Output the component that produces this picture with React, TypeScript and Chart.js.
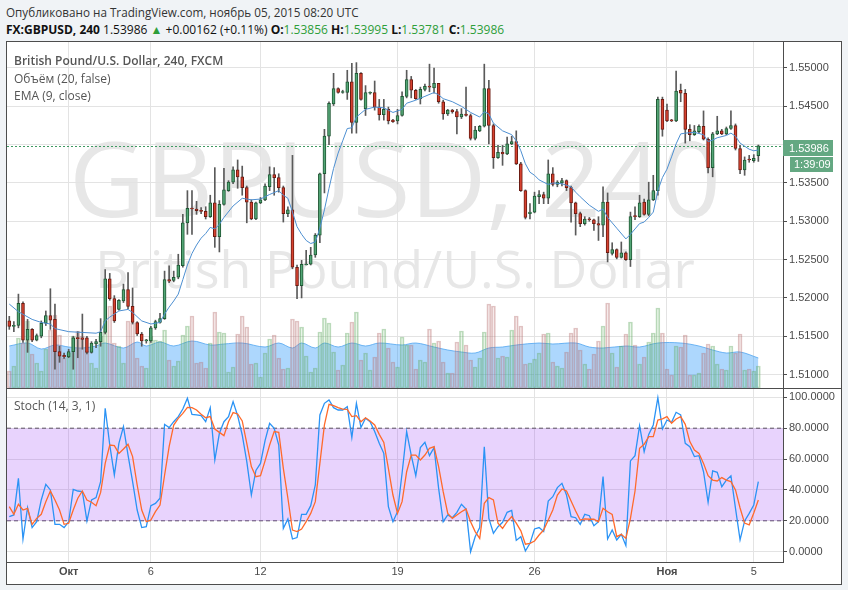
import React, { useEffect, useRef } from 'react';
import { Chart, registerables } from 'chart.js';

Chart.register(...registerables);

// ---------- DATA ----------
const opens = [
  1.5170, 1.5163, 1.5164, 1.5193, 1.5145, 1.5159, 1.5145, 1.5150, 1.5167, 1.5177,
  1.5172, 1.5130, 1.5125, 1.5123, 1.5130, 1.5148, 1.5148, 1.5148, 1.5129, 1.5140,
  1.5143, 1.5155, 1.5225, 1.5199, 1.5185, 1.5196, 1.5211, 1.5189, 1.5168, 1.5153,
  1.5144, 1.5144, 1.5161, 1.5168, 1.5173, 1.5224, 1.5223, 1.5227, 1.5242, 1.5298,
  1.5317, 1.5316, 1.5314, 1.5313, 1.5306, 1.5324, 1.5280, 1.5322, 1.5340, 1.5351,
  1.5367, 1.5358, 1.5344, 1.5325, 1.5303, 1.5324, 1.5328, 1.5345, 1.5361, 1.5357,
  1.5344, 1.5310, 1.5315, 1.5240, 1.5216, 1.5243, 1.5244, 1.5256, 1.5282, 1.5362,
  1.5411, 1.5453, 1.5473, 1.5468, 1.5468, 1.5482, 1.5429, 1.5493, 1.5447, 1.5467,
  1.5468, 1.5449, 1.5439, 1.5446, 1.5432, 1.5431, 1.5438, 1.5463, 1.5485, 1.5471,
  1.5460, 1.5472, 1.5476, 1.5474, 1.5480, 1.5456, 1.5440, 1.5445, 1.5443, 1.5436,
  1.5440, 1.5438, 1.5408, 1.5418, 1.5424, 1.5473, 1.5425, 1.5383, 1.5390, 1.5388,
  1.5401, 1.5404, 1.5375, 1.5340, 1.5310, 1.5312, 1.5332, 1.5335, 1.5330, 1.5362,
  1.5348, 1.5350, 1.5353, 1.5344, 1.5324, 1.5310, 1.5297, 1.5303, 1.5302, 1.5297,
  1.5295, 1.5325, 1.5258, 1.5263, 1.5253, 1.5259, 1.5250, 1.5307, 1.5306, 1.5325,
  1.5309, 1.5328, 1.5340, 1.5459, 1.5445, 1.5432, 1.5431, 1.5471, 1.5467, 1.5420,
  1.5413, 1.5417, 1.5424, 1.5407, 1.5370, 1.5414, 1.5418, 1.5414, 1.5421, 1.5425,
  1.5395, 1.5367, 1.5381, 1.5379, 1.53856,
];
const highs = [
  1.5176, 1.5169, 1.5205, 1.5195, 1.5172, 1.5160, 1.5153, 1.5170, 1.5183, 1.5212,
  1.5192, 1.5137, 1.5128, 1.5133, 1.5150, 1.5156, 1.5179, 1.5150, 1.5143, 1.5146,
  1.5173, 1.5237, 1.5232, 1.5203, 1.5198, 1.5218, 1.5233, 1.5213, 1.5169, 1.5155,
  1.5146, 1.5163, 1.5171, 1.5180, 1.5235, 1.5242, 1.5235, 1.5257, 1.5309, 1.5340,
  1.5340, 1.5326, 1.5318, 1.5319, 1.5334, 1.5370, 1.5327, 1.5369, 1.5353, 1.5371,
  1.5380, 1.5372, 1.5346, 1.5328, 1.5325, 1.5331, 1.5349, 1.5371, 1.5370, 1.5362,
  1.5346, 1.5319, 1.5386, 1.5243, 1.5249, 1.5262, 1.5266, 1.5284, 1.5363, 1.5420,
  1.5456, 1.5493, 1.5474, 1.5471, 1.5497, 1.5506, 1.5507, 1.5494, 1.5477, 1.5469,
  1.5483, 1.5459, 1.5459, 1.5449, 1.5433, 1.5446, 1.5469, 1.5497, 1.5489, 1.5472,
  1.5475, 1.5479, 1.5505, 1.5500, 1.5480, 1.5458, 1.5446, 1.5446, 1.5446, 1.5447,
  1.5475, 1.5440, 1.5424, 1.5425, 1.5505, 1.5484, 1.5427, 1.5399, 1.5399, 1.5410,
  1.5411, 1.5418, 1.5377, 1.5341, 1.5323, 1.5338, 1.5340, 1.5338, 1.5380, 1.5370,
  1.5353, 1.5356, 1.5354, 1.5346, 1.5325, 1.5312, 1.5306, 1.5305, 1.5303, 1.5306,
  1.5345, 1.5337, 1.5272, 1.5264, 1.5273, 1.5260, 1.5312, 1.5319, 1.5334, 1.5329,
  1.5351, 1.5360, 1.5462, 1.5462, 1.5453, 1.5433, 1.5496, 1.5479, 1.5472, 1.5426,
  1.5425, 1.5426, 1.5444, 1.5409, 1.5416, 1.5437, 1.5420, 1.5423, 1.5444, 1.5427,
  1.5399, 1.5384, 1.5386, 1.5387, 1.53995,
];
const lows = [
  1.5159, 1.5156, 1.5161, 1.5142, 1.5129, 1.5143, 1.5144, 1.5148, 1.5164, 1.5159,
  1.5107, 1.5116, 1.5121, 1.5122, 1.5107, 1.5122, 1.5133, 1.5127, 1.5128, 1.5135,
  1.5137, 1.5153, 1.5197, 1.5168, 1.5184, 1.5194, 1.5186, 1.5166, 1.5151, 1.5137,
  1.5141, 1.5142, 1.5159, 1.5167, 1.5172, 1.5220, 1.5221, 1.5225, 1.5240, 1.5283,
  1.5283, 1.5309, 1.5310, 1.5303, 1.5305, 1.5266, 1.5260, 1.5321, 1.5339, 1.5349,
  1.5343, 1.5334, 1.5298, 1.5302, 1.5302, 1.5323, 1.5327, 1.5340, 1.5334, 1.5338,
  1.5299, 1.5306, 1.5238, 1.5199, 1.5200, 1.5243, 1.5243, 1.5253, 1.5272, 1.5337,
  1.5400, 1.5451, 1.5467, 1.5467, 1.5459, 1.5415, 1.5415, 1.5458, 1.5438, 1.5466,
  1.5445, 1.5432, 1.5432, 1.5427, 1.5429, 1.5427, 1.5437, 1.5461, 1.5461, 1.5459,
  1.5453, 1.5470, 1.5469, 1.5467, 1.5454, 1.5433, 1.5438, 1.5441, 1.5414, 1.5434,
  1.5437, 1.5406, 1.5406, 1.5417, 1.5423, 1.5401, 1.5369, 1.5382, 1.5373, 1.5387,
  1.5400, 1.5374, 1.5339, 1.5303, 1.5303, 1.5311, 1.5323, 1.5323, 1.5323, 1.5346,
  1.5345, 1.5346, 1.5340, 1.5299, 1.5282, 1.5293, 1.5295, 1.5300, 1.5288, 1.5275,
  1.5280, 1.5247, 1.5256, 1.5251, 1.5252, 1.5249, 1.5241, 1.5302, 1.5305, 1.5308,
  1.5307, 1.5327, 1.5334, 1.5411, 1.5430, 1.5430, 1.5430, 1.5456, 1.5402, 1.5405,
  1.5412, 1.5415, 1.5406, 1.5363, 1.5358, 1.5413, 1.5413, 1.5413, 1.5420, 1.5393,
  1.5362, 1.5360, 1.5377, 1.5377, 1.53781,
];
const closes = [
  1.5163, 1.5164, 1.5193, 1.5145, 1.5159, 1.5145, 1.5151, 1.5167, 1.5177, 1.5171,
  1.5130, 1.5124, 1.5123, 1.5130, 1.5148, 1.5147, 1.5146, 1.5129, 1.5141, 1.5143,
  1.5155, 1.5225, 1.5199, 1.5170, 1.5197, 1.5211, 1.5189, 1.5168, 1.5153, 1.5144,
  1.5145, 1.5161, 1.5169, 1.5173, 1.5224, 1.5222, 1.5227, 1.5243, 1.5298, 1.5317,
  1.5316, 1.5314, 1.5313, 1.5306, 1.5324, 1.5280, 1.5322, 1.5341, 1.5351, 1.5367,
  1.5358, 1.5344, 1.5325, 1.5303, 1.5324, 1.5328, 1.5346, 1.5361, 1.5357, 1.5344,
  1.5310, 1.5315, 1.5240, 1.5216, 1.5244, 1.5244, 1.5256, 1.5282, 1.5362, 1.5411,
  1.5454, 1.5473, 1.5468, 1.5469, 1.5482, 1.5429, 1.5493, 1.5459, 1.5468, 1.5468,
  1.5449, 1.5439, 1.5446, 1.5431, 1.5430, 1.5438, 1.5463, 1.5485, 1.5471, 1.5460,
  1.5472, 1.5476, 1.5475, 1.5480, 1.5456, 1.5440, 1.5445, 1.5443, 1.5436, 1.5440,
  1.5438, 1.5408, 1.5419, 1.5424, 1.5473, 1.5425, 1.5383, 1.5390, 1.5388, 1.5401,
  1.5404, 1.5375, 1.5340, 1.5305, 1.5312, 1.5333, 1.5335, 1.5330, 1.5362, 1.5348,
  1.5351, 1.5353, 1.5344, 1.5324, 1.5310, 1.5297, 1.5303, 1.5302, 1.5297, 1.5295,
  1.5325, 1.5259, 1.5263, 1.5253, 1.5259, 1.5250, 1.5306, 1.5306, 1.5324, 1.5309,
  1.5328, 1.5340, 1.5459, 1.5420, 1.5431, 1.5431, 1.5470, 1.5467, 1.5420, 1.5413,
  1.5418, 1.5424, 1.5407, 1.5370, 1.5414, 1.5418, 1.5414, 1.5421, 1.5425, 1.5395,
  1.5367, 1.5380, 1.5380, 1.5382, 1.53986,
];
// tick volume (arbitrary units)
const volumes = [
  17, 22, 50, 45, 67, 34, 25, 17, 39, 58,
  73, 53, 30, 35, 52, 57, 52, 37, 25, 20,
  52, 67, 82, 45, 42, 25, 67, 65, 30, 22,
  20, 52, 48, 47, 58, 28, 22, 27, 53, 62,
  72, 25, 26, 20, 45, 76, 56, 55, 16, 21,
  54, 72, 61, 24, 25, 11, 35, 49, 53, 30,
  19, 20, 69, 67, 61, 32, 16, 20, 56, 70,
  65, 36, 18, 23, 55, 66, 76, 28, 35, 18,
  31, 55, 59, 40, 26, 21, 51, 43, 43, 19,
  28, 26, 59, 45, 47, 26, 15, 15, 46, 57,
  43, 28, 21, 30, 56, 84, 82, 30, 32, 31,
  58, 72, 62, 24, 25, 29, 35, 54, 55, 26,
  22, 20, 36, 55, 60, 38, 24, 19, 34, 47,
  62, 85, 35, 21, 42, 54, 66, 43, 24, 31,
  46, 55, 80, 55, 19, 13, 42, 41, 53, 13,
  13, 15, 35, 44, 42, 24, 19, 18, 42, 35,
  54, 18, 19, 17, 22,
];
// volume moving average (20) – [candle index, value]
const volumeMa = [
  [0, 42], [4, 45], [7, 39], [10, 43], [13, 41], [16, 40], [19, 42], [21, 45], [25, 40], [28, 46],
  [30, 42], [33, 46], [36, 42], [40, 47], [44, 43], [47, 44], [51, 45], [56, 41], [59, 45], [62, 40],
  [64, 45], [67, 40], [69, 45], [72, 41], [75, 45], [78, 42], [81, 45], [86, 43], [89, 45], [93, 41],
  [96, 38], [99, 36], [102, 35], [105, 40], [108, 41], [111, 43], [116, 45], [119, 44], [124, 45], [127, 41],
  [130, 40], [135, 42], [138, 41], [142, 45], [147, 45], [151, 42], [154, 38], [157, 35], [160, 36], [164, 30],
];
// EMA (9, close) – [candle index, value]
const emaLine = [
  [0, 1.5192], [2, 1.5182], [5, 1.5172], [7, 1.5168], [9, 1.5166], [10, 1.5160], [13, 1.5156], [16, 1.5155],
  [19, 1.5154], [20, 1.5156], [21, 1.5170], [22, 1.5175], [24, 1.5183], [26, 1.5185], [27, 1.5181], [29, 1.5170],
  [31, 1.5166], [33, 1.5168], [34, 1.5179], [35, 1.5188], [36, 1.5196], [37, 1.5205], [38, 1.5224], [39, 1.5243],
  [40, 1.5258], [41, 1.5269], [42, 1.5278], [43, 1.5284], [44, 1.5292], [45, 1.5290], [46, 1.5296], [47, 1.5305],
  [49, 1.5320], [51, 1.5330], [53, 1.5328], [55, 1.5329], [57, 1.5335], [59, 1.5340], [60, 1.5334], [61, 1.5330],
  [62, 1.5312], [63, 1.5293], [64, 1.5283], [65, 1.5275], [66, 1.5271], [67, 1.5273], [68, 1.5291], [69, 1.5315],
  [70, 1.5343], [71, 1.5369], [72, 1.5389], [73, 1.5405], [74, 1.5421], [75, 1.5422], [76, 1.5436], [77, 1.5441],
  [78, 1.5446], [80, 1.5449], [82, 1.5448], [83, 1.5445], [84, 1.5442], [86, 1.5446], [87, 1.5454], [89, 1.5458],
  [91, 1.5463], [93, 1.5468], [94, 1.5465], [95, 1.5460], [97, 1.5456], [99, 1.5450], [101, 1.5442], [103, 1.5436],
  [104, 1.5443], [105, 1.5440], [106, 1.5428], [108, 1.5418], [110, 1.5413], [111, 1.5405], [112, 1.5392], [113, 1.5375],
  [114, 1.5364], [115, 1.5360], [116, 1.5354], [118, 1.5348], [119, 1.5350], [121, 1.5349], [123, 1.5345], [124, 1.5338],
  [125, 1.5332], [127, 1.5321], [129, 1.5313], [130, 1.5316], [131, 1.5305], [133, 1.5291], [135, 1.5277], [136, 1.5283],
  [137, 1.5290], [138, 1.5297], [139, 1.5299], [140, 1.5305], [141, 1.5312], [142, 1.5340], [143, 1.5357], [144, 1.5368],
  [145, 1.5384], [146, 1.5401], [147, 1.5414], [148, 1.5415], [150, 1.5416], [152, 1.5413], [153, 1.5404], [154, 1.5406],
  [155, 1.5409], [157, 1.5412], [158, 1.5415], [159, 1.5411], [160, 1.5402], [161, 1.5398], [162, 1.5394], [163, 1.5392],
  [164, 1.5393],
];
const stochK = [
  22.7, 23.8, 47.5, 8.2, 28.5, 15.6, 19.4, 33.5, 43.6, 40.0,
  17.7, 17.7, 15.6, 19.4, 40.4, 39.3, 38.9, 19.9, 33.5, 35.0,
  45.4, 92.9, 69.1, 49.7, 70.2, 81.0, 62.6, 45.4, 27.0, 15.6,
  16.2, 29.8, 31.3, 34.6, 82.5, 80.4, 84.2, 87.5, 92.4, 99.4,
  89.0, 88.6, 88.1, 84.2, 93.3, 59.4, 76.7, 84.2, 87.5, 97.2,
  88.1, 75.6, 58.3, 36.7, 52.6, 57.2, 72.0, 83.2, 79.9, 69.1,
  15.1, 21.2, 8.2, 9.1, 24.2, 24.2, 29.8, 43.2, 88.6, 96.1,
  98.3, 93.3, 91.8, 91.8, 94.0, 73.9, 96.1, 80.4, 86.4, 84.2,
  77.8, 70.2, 63.7, 29.2, 19.4, 25.9, 50.8, 77.8, 62.6, 49.2,
  67.4, 70.8, 62.2, 67.4, 41.0, 19.4, 23.8, 22.0, 25.5, 30.7,
  27.6, 0.0, 9.7, 15.6, 68.0, 21.6, 11.9, 16.2, 19.0, 25.5,
  26.7, 7.3, 9.7, 0.4, 5.4, 14.7, 15.6, 13.0, 32.8, 35.6,
  41.5, 44.3, 36.7, 22.7, 22.0, 17.7, 24.2, 23.3, 16.8, 19.4,
  48.6, 8.2, 14.0, 7.6, 11.2, 3.9, 58.8, 62.2, 81.6, 64.8,
  76.0, 82.1, 99.8, 79.5, 85.3, 83.8, 90.3, 88.6, 70.2, 68.0,
  61.6, 62.2, 51.8, 32.0, 52.3, 51.4, 42.1, 46.4, 49.2, 28.1,
  7.6, 19.9, 24.8, 30.2, 45.4,
];
const stochD = [
  29.2, 24.2, 30.7, 27.0, 28.1, 17.7, 21.6, 24.2, 32.4, 39.3,
  33.5, 27.0, 17.7, 18.4, 27.0, 34.6, 39.3, 33.5, 32.0, 29.8,
  38.4, 57.2, 69.1, 68.7, 63.7, 66.5, 69.6, 61.6, 43.2, 27.0,
  19.4, 20.5, 25.9, 30.2, 49.5, 68.0, 82.0, 86.4, 89.6, 93.5,
  93.3, 91.8, 89.0, 86.8, 87.5, 79.5, 77.3, 75.2, 84.2, 90.1,
  89.2, 84.7, 70.2, 55.1, 48.6, 49.2, 58.8, 69.1, 77.8, 77.3,
  54.0, 34.6, 14.0, 13.0, 14.7, 19.4, 24.8, 32.4, 57.2, 82.1,
  95.5, 94.6, 93.3, 92.4, 92.2, 87.5, 88.1, 84.2, 86.8, 84.7,
  82.1, 76.0, 70.8, 54.0, 36.7, 24.8, 32.4, 51.8, 62.6, 62.6,
  59.4, 62.6, 67.0, 68.0, 55.1, 38.9, 24.8, 21.6, 23.8, 25.9,
  27.6, 19.4, 13.0, 8.6, 31.3, 35.0, 33.5, 18.4, 15.1, 19.4,
  22.7, 18.5, 13.5, 4.8, 5.4, 6.9, 10.8, 14.0, 20.5, 27.0,
  36.7, 40.6, 39.3, 32.8, 26.4, 20.5, 21.2, 21.0, 21.0, 19.4,
  28.1, 25.9, 24.2, 9.7, 11.2, 8.6, 21.6, 39.3, 67.0, 69.6,
  74.5, 74.5, 85.3, 86.0, 87.5, 83.2, 86.0, 87.5, 82.5, 71.3,
  65.9, 63.7, 57.2, 49.2, 46.4, 45.8, 48.0, 46.4, 45.4, 40.0,
  28.3, 18.5, 17.4, 25.0, 33.5,
];
const dateTickIndex = [13, 31, 55, 85, 115, 144, 163];
const dateTickLabels = ['Окт', '6', '12', '19', '26', 'Ноя', '5'];
const monthLabels = ['Окт', 'Ноя'];
const priceTicks = [1.51, 1.515, 1.52, 1.525, 1.53, 1.535, 1.54, 1.545, 1.55];
const stochTicks = [0, 20, 40, 60, 80, 100];
const stochUpper = 80;
const stochLower = 20;
const lastPrice = 1.53986;
const priceChange = 0.00162;
const priceChangePct = 0.11;
const countdown = '1:39:09';

// ---------- view settings ----------
const X_MIN = -0.5;
const X_MAX = 169.4;
const PRICE_MIN = 1.50825;
const PRICE_MAX = 1.55339;
const VOL_MAX = 346;
const STOCH_MIN = -6.7;
const STOCH_MAX = 105.4;
const AXIS_W = 58;
const GRID = '#e3e3e3';
const AXIS_LINE = '#4d4d4d';
const TICK_TEXT = '#4a4a4a';
const AXIS_FONT = "'Liberation Sans', Arial, sans-serif";
const UI_FONT = "'Open Sans', 'Noto Sans', sans-serif";
const GREEN_TXT = '#2e9e3a';

Chart.defaults.font.family = AXIS_FONT;

const n = closes.length;
const idx = closes.map((_, i) => i);
const isUp = (i: number) => closes[i] >= opens[i];

const fitY = (s: any) => {
  s.width = AXIS_W;
  s.paddingTop = 0;
  s.paddingBottom = 0;
};
const fitX = (h: number) => (s: any) => {
  s.height = h;
  s.paddingLeft = 0;
  s.paddingRight = 0;
};
const dateTicks = (s: any) => {
  s.ticks = dateTickIndex.map((v) => ({ value: v }));
};

const lastPricePlugin = {
  id: 'lastPrice',
  beforeDatasetsDraw(chart: any) {
    const { ctx, chartArea: a, scales } = chart;
    const y = Math.round(scales.y.getPixelForValue(lastPrice)) + 0.5;
    ctx.save();
    ctx.strokeStyle = '#3f9a62';
    ctx.lineWidth = 1;
    ctx.setLineDash([2, 2]);
    ctx.beginPath();
    ctx.moveTo(a.left, y);
    ctx.lineTo(a.right, y);
    ctx.stroke();
    ctx.restore();
  },
  afterDraw(chart: any) {
    const { ctx, chartArea: a, scales } = chart;
    const y = Math.round(scales.y.getPixelForValue(lastPrice));
    ctx.save();
    ctx.fillStyle = '#64a882';
    ctx.fillRect(a.right, y - 6, 50, 16);
    ctx.fillRect(a.right + 7, y + 11, 43, 15);
    ctx.fillStyle = '#ffffff';
    ctx.font = `11px ${AXIS_FONT}`;
    ctx.textBaseline = 'middle';
    ctx.fillText(lastPrice.toFixed(5), a.right + 6, y + 2.5);
    ctx.fillText(countdown, a.right + 11, y + 19);
    ctx.restore();
  },
};

function PriceChart() {
  const ref = useRef<HTMLCanvasElement>(null);
  useEffect(() => {
    const chart = new Chart(ref.current as HTMLCanvasElement, {
      type: 'bar',
      data: {
        datasets: [
          {
            type: 'line',
            label: 'EMA',
            data: emaLine.map(([x, y]) => ({ x, y })),
            borderColor: '#4d8fd1',
            borderWidth: 1,
            pointRadius: 0,
            yAxisID: 'y',
            order: 0,
          } as any,
          {
            label: 'body',
            data: idx.map((i) => ({ x: i, y: [opens[i], closes[i]] })),
            backgroundColor: idx.map((i) => (isUp(i) ? '#53a676' : '#d6412f')),
            borderColor: idx.map((i) => (isUp(i) ? '#1f5834' : '#6b1b12')),
            borderWidth: 1,
            borderSkipped: false,
            barThickness: 3,
            minBarLength: 1,
            grouped: false,
            yAxisID: 'y',
            order: 1,
          } as any,
          {
            label: 'wick',
            data: idx.map((i) => ({ x: i, y: [lows[i], highs[i]] })),
            backgroundColor: '#5a5a5a',
            borderWidth: 0,
            barThickness: 1,
            grouped: false,
            yAxisID: 'y',
            order: 2,
          } as any,
          {
            label: 'volume',
            data: idx.map((i) => ({ x: i, y: volumes[i] })),
            backgroundColor: idx.map((i) => (isUp(i) ? 'rgba(120,190,120,0.16)' : 'rgba(200,130,130,0.16)')),
            borderColor: idx.map((i) => (isUp(i) ? 'rgba(100,170,100,0.42)' : 'rgba(180,110,110,0.4)')),
            borderWidth: 1,
            borderSkipped: false,
            barThickness: 4,
            grouped: false,
            yAxisID: 'vol',
            order: 3,
          } as any,
          {
            type: 'line',
            label: 'volume MA',
            data: volumeMa.map(([x, y]) => ({ x, y })),
            borderColor: 'rgba(80,165,240,0.8)',
            backgroundColor: 'rgba(40,150,250,0.38)',
            borderWidth: 1,
            fill: 'origin',
            tension: 0.35,
            pointRadius: 0,
            yAxisID: 'vol',
            order: 4,
          } as any,
        ],
      },
      options: {
        responsive: false,
        animation: false,
        devicePixelRatio: 1,
        layout: { padding: 0 },
        plugins: { legend: { display: false }, tooltip: { enabled: false } },
        scales: {
          x: {
            type: 'linear',
            offset: false,
            min: X_MIN,
            max: X_MAX,
            ticks: { display: false },
            grid: { color: GRID, drawTicks: false, offset: false },
            border: { display: false },
            afterBuildTicks: dateTicks,
            afterFit: fitX(0),
          },
          y: {
            type: 'linear',
            position: 'right',
            min: PRICE_MIN,
            max: PRICE_MAX,
            afterBuildTicks: (s: any) => {
              s.ticks = priceTicks.map((v) => ({ value: v }));
            },
            ticks: {
              callback: (v: any) => Number(v).toFixed(5),
              color: TICK_TEXT,
              font: { size: 11, family: AXIS_FONT },
              padding: 2,
            },
            grid: { color: GRID, tickColor: AXIS_LINE, tickLength: 4 },
            border: { color: AXIS_LINE },
            afterFit: fitY,
          },
          vol: { type: 'linear', display: false, min: 0, max: VOL_MAX },
        },
      } as any,
      plugins: [lastPricePlugin],
    });
    return () => chart.destroy();
  }, []);
  return (
    <canvas
      ref={ref}
      width={834}
      height={346}
      style={{ position: 'absolute', left: 7, top: 42, width: 834, height: 346 }}
    />
  );
}

function StochChart() {
  const ref = useRef<HTMLCanvasElement>(null);
  useEffect(() => {
    const chart = new Chart(ref.current as HTMLCanvasElement, {
      type: 'line',
      data: {
        datasets: [
          {
            label: '%D',
            data: idx.map((i) => ({ x: i, y: stochD[i] })),
            borderColor: '#ff6a2b',
            borderWidth: 1.3,
            pointRadius: 0,
            order: 0,
          },
          {
            label: '%K',
            data: idx.map((i) => ({ x: i, y: stochK[i] })),
            borderColor: '#2a93f5',
            borderWidth: 1.3,
            pointRadius: 0,
            order: 1,
          },
          {
            label: 'upper band',
            data: [{ x: X_MIN, y: stochUpper }, { x: X_MAX, y: stochUpper }],
            borderColor: '#5a5060',
            borderWidth: 1,
            borderDash: [4, 3],
            pointRadius: 0,
            fill: { value: stochLower },
            backgroundColor: 'rgba(160,70,245,0.24)',
            order: 2,
          },
          {
            label: 'lower band',
            data: [{ x: X_MIN, y: stochLower }, { x: X_MAX, y: stochLower }],
            borderColor: '#5a5060',
            borderWidth: 1,
            borderDash: [4, 3],
            pointRadius: 0,
            order: 3,
          },
        ] as any,
      },
      options: {
        responsive: false,
        animation: false,
        devicePixelRatio: 1,
        layout: { padding: 0 },
        plugins: { legend: { display: false }, tooltip: { enabled: false } },
        scales: {
          x: {
            type: 'linear',
            offset: false,
            min: X_MIN,
            max: X_MAX,
            afterBuildTicks: dateTicks,
            ticks: {
              autoSkip: false,
              maxRotation: 0,
              padding: 3,
              color: TICK_TEXT,
              callback: (v: any) => dateTickLabels[dateTickIndex.indexOf(Number(v))],
              font: (ctx: any) => ({
                size: 11,
                family: AXIS_FONT,
                weight: monthLabels.includes(dateTickLabels[dateTickIndex.indexOf(ctx.tick?.value)]) ? 'bold' : 'normal',
              }),
            },
            grid: { color: GRID, drawTicks: false },
            border: { color: AXIS_LINE },
            afterFit: fitX(21),
          },
          y: {
            type: 'linear',
            position: 'right',
            min: STOCH_MIN,
            max: STOCH_MAX,
            afterBuildTicks: (s: any) => {
              s.ticks = stochTicks.map((v) => ({ value: v }));
            },
            ticks: {
              callback: (v: any) => Number(v).toFixed(4),
              color: TICK_TEXT,
              font: { size: 11, family: AXIS_FONT },
              padding: 2,
            },
            grid: { color: GRID, tickColor: AXIS_LINE, tickLength: 4 },
            border: { color: AXIS_LINE },
            afterFit: fitY,
          },
        },
      } as any,
    });
    return () => chart.destroy();
  }, []);
  return (
    <canvas
      ref={ref}
      width={834}
      height={194}
      style={{ position: 'absolute', left: 7, top: 389, width: 834, height: 194 }}
    />
  );
}

const abs = (s: React.CSSProperties): React.CSSProperties => ({ position: 'absolute', whiteSpace: 'nowrap', ...s });

export default function App() {
  const last = n - 1;
  const green = { color: GREEN_TXT };
  return (
    <div
      style={{
        position: 'fixed',
        left: 0,
        top: 0,
        width: 848,
        height: 590,
        background: '#f0f3f6',
        overflow: 'hidden',
        fontFamily: UI_FONT,
      }}
    >
      <div style={abs({ left: 6, top: 3, fontSize: 11.7, lineHeight: '18px', color: '#333' })}>
        Опубликовано на TradingView.com, ноябрь 05, 2015 08:20 UTC
      </div>
      <div style={abs({ left: 6, top: 21, fontSize: 12, lineHeight: '18px', color: '#111' })}>
        <b>FX:GBPUSD, 240</b> {lastPrice.toFixed(5)} <span style={green}>▲</span> +{priceChange.toFixed(5)} (+
        {priceChangePct.toFixed(2)}%) <b>O:</b>
        <span style={green}>{opens[last].toFixed(5)}</span> <b>H:</b>
        <span style={green}>{highs[last].toFixed(5)}</span> <b>L:</b>
        <span style={green}>{lows[last].toFixed(5)}</span> <b>C:</b>
        <span style={green}>{closes[last].toFixed(5)}</span>
      </div>

      <div
        style={abs({
          left: 6,
          top: 41,
          width: 836,
          height: 544,
          boxSizing: 'border-box',
          border: `1px solid ${AXIS_LINE}`,
          background: '#ffffff',
        })}
      />
      <div
        style={abs({
          left: 7,
          top: 124,
          width: 776,
          textAlign: 'center',
          fontSize: 105,
          lineHeight: '105px',
          color: '#e7e7e7',
        })}
      >
        GBPUSD, 240
      </div>
      <div
        style={abs({
          left: 7,
          top: 242,
          width: 776,
          textAlign: 'center',
          fontSize: 52,
          lineHeight: '52px',
          color: '#e7e7e7',
        })}
      >
        British Pound/U.S. Dollar
      </div>

      <PriceChart />
      <div style={abs({ left: 7, top: 388, width: 834, height: 1, background: AXIS_LINE })} />
      <StochChart />

      <div style={abs({ left: 14, top: 52, fontSize: 12, lineHeight: '17px', color: '#555', fontWeight: 600 })}>
        British Pound/U.S. Dollar, 240, FXCM
      </div>
      <div style={abs({ left: 14, top: 70, fontSize: 12, lineHeight: '17px', color: '#555' })}>Объём (20, false)</div>
      <div style={abs({ left: 14, top: 87, fontSize: 12, lineHeight: '17px', color: '#555' })}>EMA (9, close)</div>
      <div style={abs({ left: 14, top: 397, fontSize: 12, lineHeight: '17px', color: '#555' })}>Stoch (14, 3, 1)</div>
    </div>
  );
}
